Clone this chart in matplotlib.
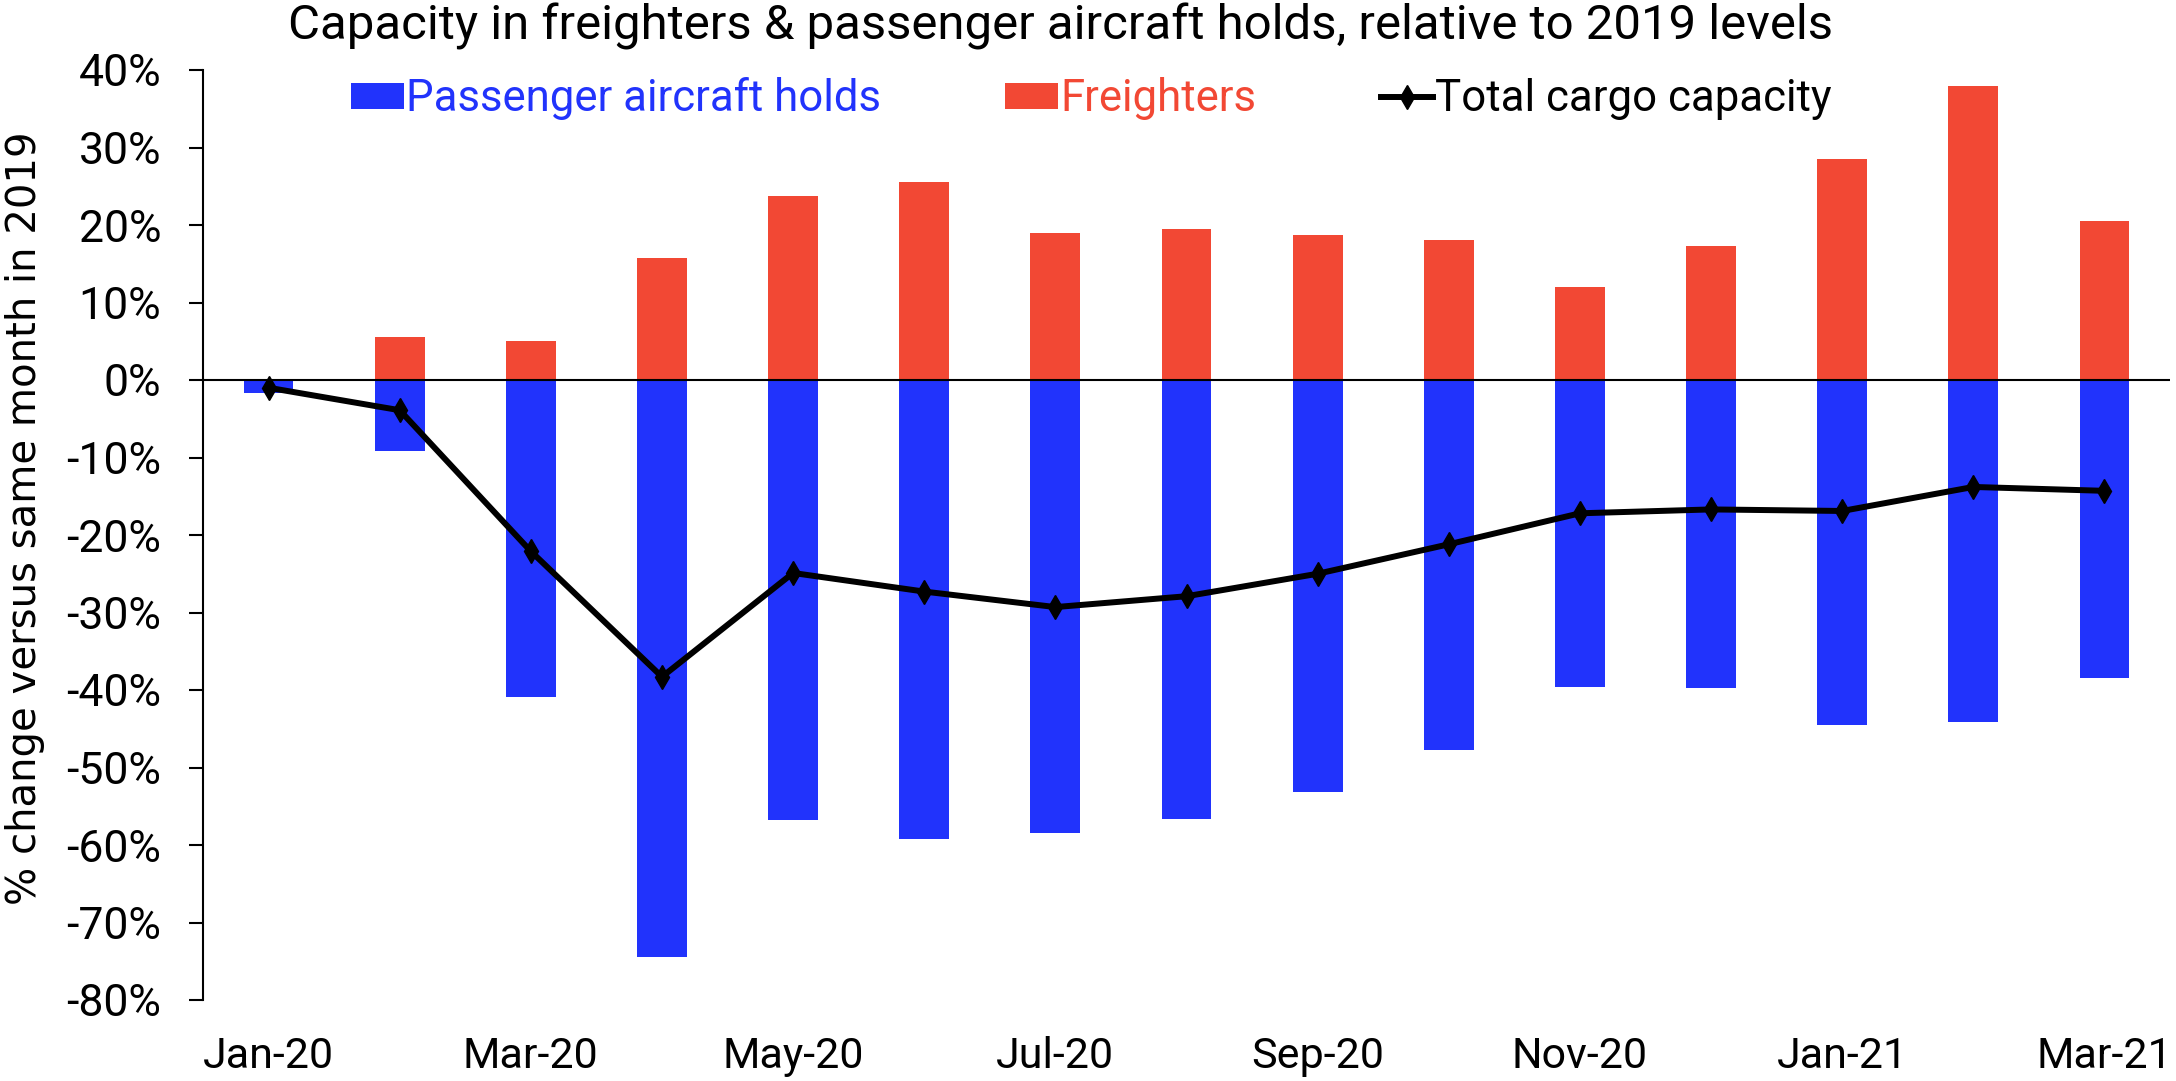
import numpy as np
import matplotlib
matplotlib.use('Agg')
import matplotlib.pyplot as plt

# fonts
plt.rcParams['font.family'] = ['Roboto', 'DejaVu Sans']

# data (% change vs same month in 2019)
months = ['Jan-20', 'Feb-20', 'Mar-20', 'Apr-20', 'May-20', 'Jun-20', 'Jul-20', 'Aug-20',
          'Sep-20', 'Oct-20', 'Nov-20', 'Dec-20', 'Jan-21', 'Feb-21', 'Mar-21']
passenger = [-1.7, -9.2, -40.9, -74.5, -56.8, -59.2, -58.5, -56.6,
             -53.2, -47.7, -39.6, -39.8, -44.5, -44.1, -38.4]
freighters = [0.0, 5.5, 5.0, 15.8, 23.7, 25.5, 19.0, 19.5,
              18.7, 18.1, 12.0, 17.3, 28.5, 38.0, 20.5]
total = [-1.0, -3.9, -22.1, -38.3, -24.9, -27.3, -29.3, -27.9,
         -25.0, -21.2, -17.2, -16.7, -16.9, -13.8, -14.3]
yticks = list(range(-80, 41, 10))

blue = '#2133fc'
red = '#f24834'

W, H = 2176, 1081
fig = plt.figure(figsize=(W / 100, H / 100), dpi=100)
ax = fig.add_axes([203 / W, 1 - 1000 / H, (2170 - 203) / W, (1000 - 70) / H])

x = np.arange(len(months))
b1 = ax.bar(x, passenger, width=0.38, color=blue, label='Passenger aircraft holds', zorder=2)
b2 = ax.bar(x, freighters, width=0.38, color=red, label='Freighters', zorder=2)
ax.axhline(0, color='black', lw=1.5, zorder=2.5)
l1, = ax.plot(x, total, color='black', lw=4.3, marker='d', ms=12,
              label='Total cargo capacity', zorder=3)

ax.set_xlim(-0.5, 14.5)
ax.set_ylim(-80, 40)
for s in ['top', 'right', 'bottom']:
    ax.spines[s].set_visible(False)
ax.spines['left'].set_linewidth(1.5)

ax.set_yticks(yticks)
ax.set_yticklabels([f'{v}%' for v in yticks])
ax.set_xticks(x[::2])
ax.set_xticklabels(months[::2])
ax.tick_params(axis='y', length=10, width=1.5, pad=20, labelsize=32)
ax.tick_params(axis='x', length=0, pad=26, labelsize=31)

# legend across the top, labels coloured like their series
ax.legend(handles=[b1, b2, l1], loc='center left', bbox_to_anchor=(351 / W, 1 - 99 / H),
          bbox_transform=fig.transFigure, ncol=3, frameon=False, fontsize=31.5,
          handlelength=1.2, handleheight=0.55, handletextpad=0.05,
          columnspacing=2.85, borderpad=0, borderaxespad=0,
          labelcolor=[blue, red, 'black'])

fig.text(1060 / W, 1 - 39 / H,
         'Capacity in freighters & passenger aircraft holds, relative to 2019 levels',
         ha='center', va='baseline', fontsize=35.4)
fig.text(25 / W, 1 - 518 / H, '% change versus same month in 2019',
         rotation=90, ha='center', va='center', fontsize=29, family='DejaVu Sans')

fig.savefig('out.png', dpi=100)
